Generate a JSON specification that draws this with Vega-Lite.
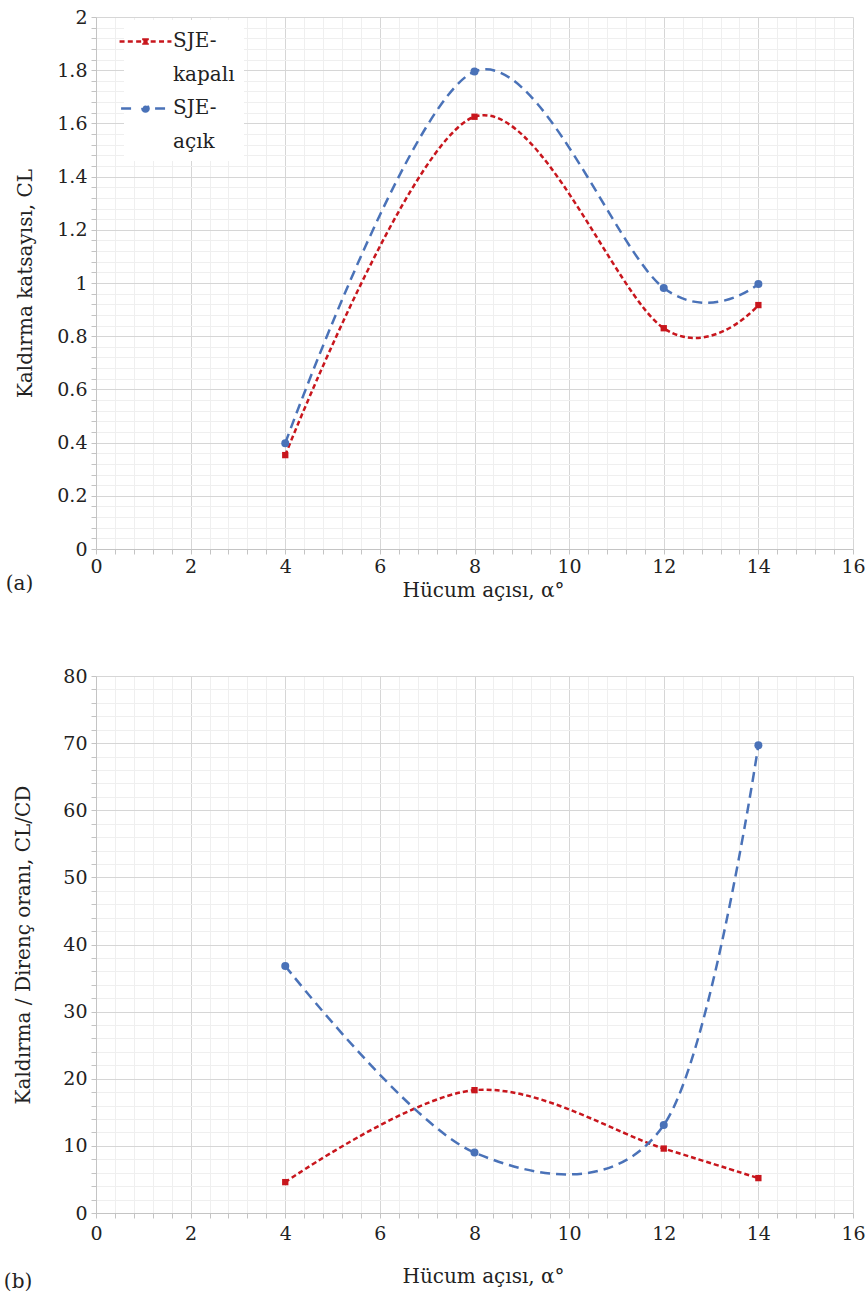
{
  "$schema": "https://vega.github.io/schema/vega-lite/v6.json",
  "background": "white",
  "padding": {"left": 3, "top": 8, "right": 2, "bottom": 5},
  "spacing": 67,
  "datasets": {
    "cl": [
      {"alpha": 4, "value": 0.353, "series": "SJE-kapalı"},
      {"alpha": 8, "value": 1.625, "series": "SJE-kapalı"},
      {"alpha": 12, "value": 0.83, "series": "SJE-kapalı"},
      {"alpha": 14, "value": 0.917, "series": "SJE-kapalı"},
      {"alpha": 4, "value": 0.398, "series": "SJE-açık"},
      {"alpha": 8, "value": 1.795, "series": "SJE-açık"},
      {"alpha": 12, "value": 0.981, "series": "SJE-açık"},
      {"alpha": 14, "value": 0.996, "series": "SJE-açık"}
    ],
    "ratio": [
      {"alpha": 4, "value": 4.6, "series": "SJE-kapalı"},
      {"alpha": 8, "value": 18.3, "series": "SJE-kapalı"},
      {"alpha": 12, "value": 9.6, "series": "SJE-kapalı"},
      {"alpha": 14, "value": 5.2, "series": "SJE-kapalı"},
      {"alpha": 4, "value": 36.8, "series": "SJE-açık"},
      {"alpha": 8, "value": 9.0, "series": "SJE-açık"},
      {"alpha": 12, "value": 13.1, "series": "SJE-açık"},
      {"alpha": 14, "value": 69.7, "series": "SJE-açık"}
    ]
  },
  "config": {
    "font": "DejaVu Serif",
    "view": {"stroke": null},
    "axis": {
      "labelFont": "DejaVu Serif",
      "titleFont": "DejaVu Serif",
      "labelFontSize": 19,
      "titleFontSize": 20,
      "labelColor": "#222",
      "titleColor": "#222",
      "titleFontWeight": "normal",
      "domainColor": "#c4c4c4",
      "tickColor": "#c4c4c4",
      "tickSize": 5,
      "tickCount": 200,
      "labelOverlap": false,
      "labelFlush": false,
      "labelBound": false,
      "format": "~g"
    },
    "legend": {
      "title": null,
      "orient": "none",
      "legendX": 28,
      "legendY": 3,
      "padding": 9,
      "fillColor": "white",
      "symbolSize": 484,
      "symbolStrokeWidth": 2.5,
      "labelFontSize": 20,
      "labelFont": "DejaVu Serif",
      "labelColor": "#222",
      "labelOffset": 15,
      "labelBaseline": "top",
      "rowPadding": 11
    },
    "title": {"font": "DejaVu Serif", "fontSize": 20, "fontWeight": "normal", "color": "#222"}
  },
  "vconcat": [
    {
      "width": 757,
      "height": 532,
      "title": {"text": "(a)", "orient": "bottom", "anchor": "start", "frame": "bounds", "offset": -26, "dx": -10},
      "data": {"name": "cl"},
      "encoding": {
        "x": {"field": "alpha", "type": "quantitative", "scale": {"domain": [0, 16], "nice": false},
          "axis": {
            "title": "Hücum açısı, α°",
            "titleX": 387,
            "tickCount": 200,
            "values": [0,0.4,0.8,1.2,1.6,2,2.4,2.8,3.2,3.6,4,4.4,4.8,5.2,5.6,6,6.4,6.8,7.2,7.6,8,8.4,8.8,9.2,9.6,10,10.4,10.8,11.2,11.6,12,12.4,12.8,13.2,13.6,14,14.4,14.8,15.2,15.6,16],
            "labelExpr": "abs(datum.value/2 - round(datum.value/2)) < 0.001 ? datum.label : ''",
            "gridColor": {"condition": {"test": "abs(datum.value/2 - round(datum.value/2)) < 0.001", "value": "#d6d6d6"}, "value": "#efefef"},
            "labelPadding": 3,
            "titlePadding": 4
          }},
        "y": {"field": "value", "type": "quantitative", "scale": {"domain": [0, 2], "nice": false},
          "axis": {
            "title": "Kaldırma katsayısı, CL",
            "tickCount": 200,
            "values": [0,0.04,0.08,0.12,0.16,0.2,0.24,0.28,0.32,0.36,0.4,0.44,0.48,0.52,0.56,0.6,0.64,0.68,0.72,0.76,0.8,0.84,0.88,0.92,0.96,1,1.04,1.08,1.12,1.16,1.2,1.24,1.28,1.32,1.36,1.4,1.44,1.48,1.52,1.56,1.6,1.64,1.68,1.72,1.76,1.8,1.84,1.88,1.92,1.96,2],
            "labelExpr": "abs(datum.value*5 - round(datum.value*5)) < 0.001 ? datum.label : ''",
            "gridColor": {"condition": {"test": "abs(datum.value*5 - round(datum.value*5)) < 0.001", "value": "#d6d6d6"}, "value": "#efefef"},
            "labelPadding": 4,
            "titlePadding": 21
          }}
      },
      "layer": [
        {
          "mark": {"type": "line", "interpolate": "cardinal", "tension": 0, "strokeWidth": 2.5},
          "encoding": {
            "color": {"field": "series", "type": "nominal",
              "scale": {"domain": ["SJE-kapalı", "SJE-açık"], "range": ["#C8161D", "#4A72B8"]},
              "legend": {
                "labelExpr": "datum.label == 'SJE-kapalı' ? ['SJE-', 'kapalı'] : ['SJE-', 'açık']",
                "encode": {
                  "symbols": {"update": {
                    "shape": {"signal": "datum.value == 'SJE-kapalı' ? 'M-2.36,0H-1.89M-1.61,0H-1.13M-0.85,0H-0.38M-0.19,-0.19H0.19V0.19H-0.19ZM0.47,0H0.95M1.23,0H1.7M1.99,0H2.36' : 'M-2.22,0H-0.95M0.28,0A0.28,0.28 0 1,1 -0.28,0A0.28,0.28 0 1,1 0.28,0ZM0.87,0H2.25'"},
                    "fill": {"signal": "datum.value == 'SJE-kapalı' ? '#C8161D' : '#4A72B8'"},
                    "stroke": {"signal": "datum.value == 'SJE-kapalı' ? '#C8161D' : '#4A72B8'"},
                    "strokeWidth": {"value": 2.5},
                    "strokeDash": {"value": []}
                  }},
                  "labels": {"update": {"lineHeight": {"value": 34}, "dy": {"value": -11}}}
                }
              }},
            "strokeDash": {"field": "series", "type": "nominal",
              "scale": {"domain": ["SJE-kapalı", "SJE-açık"], "range": [[5, 3], [10, 6]]}, "legend": null}
          }
        },
        {
          "transform": [{"filter": "datum.series == 'SJE-kapalı'"}],
          "mark": {"type": "square", "filled": true, "opacity": 1, "size": 40, "color": "#C8161D"},
          "encoding": {}
        },
        {
          "transform": [{"filter": "datum.series == 'SJE-açık'"}],
          "mark": {"type": "circle", "filled": true, "opacity": 1, "size": 64, "color": "#4A72B8"},
          "encoding": {}
        }
      ]
    },
    {
      "width": 757,
      "height": 537,
      "title": {"text": "(b)", "orient": "bottom", "anchor": "start", "frame": "bounds", "offset": -14, "dx": -10},
      "data": {"name": "ratio"},
      "encoding": {
        "x": {"field": "alpha", "type": "quantitative", "scale": {"domain": [0, 16], "nice": false},
          "axis": {
            "title": "Hücum açısı, α°",
            "titleX": 387,
            "tickCount": 200,
            "values": [0,0.4,0.8,1.2,1.6,2,2.4,2.8,3.2,3.6,4,4.4,4.8,5.2,5.6,6,6.4,6.8,7.2,7.6,8,8.4,8.8,9.2,9.6,10,10.4,10.8,11.2,11.6,12,12.4,12.8,13.2,13.6,14,14.4,14.8,15.2,15.6,16],
            "labelExpr": "abs(datum.value/2 - round(datum.value/2)) < 0.001 ? datum.label : ''",
            "gridColor": {"condition": {"test": "abs(datum.value/2 - round(datum.value/2)) < 0.001", "value": "#d6d6d6"}, "value": "#efefef"},
            "labelPadding": 6,
            "titlePadding": 23
          }},
        "y": {"field": "value", "type": "quantitative", "scale": {"domain": [0, 80], "nice": false},
          "axis": {
            "title": "Kaldırma / Direnç oranı, CL/CD",
            "tickCount": 200,
            "values": [0,2,4,6,8,10,12,14,16,18,20,22,24,26,28,30,32,34,36,38,40,42,44,46,48,50,52,54,56,58,60,62,64,66,68,70,72,74,76,78,80],
            "labelExpr": "abs(datum.value/10 - round(datum.value/10)) < 0.001 ? datum.label : ''",
            "gridColor": {"condition": {"test": "abs(datum.value/10 - round(datum.value/10)) < 0.001", "value": "#d6d6d6"}, "value": "#efefef"},
            "labelPadding": 4,
            "titlePadding": 29
          }}
      },
      "layer": [
        {
          "mark": {"type": "line", "interpolate": "cardinal", "tension": 0, "strokeWidth": 2.5},
          "encoding": {
            "color": {"field": "series", "type": "nominal",
              "scale": {"domain": ["SJE-kapalı", "SJE-açık"], "range": ["#C8161D", "#4A72B8"]},
              "legend": {
                "labelExpr": "datum.label == 'SJE-kapalı' ? ['SJE-', 'kapalı'] : ['SJE-', 'açık']",
                "encode": {
                  "symbols": {"update": {
                    "shape": {"signal": "datum.value == 'SJE-kapalı' ? 'M-2.36,0H-1.89M-1.61,0H-1.13M-0.85,0H-0.38M-0.19,-0.19H0.19V0.19H-0.19ZM0.47,0H0.95M1.23,0H1.7M1.99,0H2.36' : 'M-2.22,0H-0.95M0.28,0A0.28,0.28 0 1,1 -0.28,0A0.28,0.28 0 1,1 0.28,0ZM0.87,0H2.25'"},
                    "fill": {"signal": "datum.value == 'SJE-kapalı' ? '#C8161D' : '#4A72B8'"},
                    "stroke": {"signal": "datum.value == 'SJE-kapalı' ? '#C8161D' : '#4A72B8'"},
                    "strokeWidth": {"value": 2.5},
                    "strokeDash": {"value": []}
                  }},
                  "labels": {"update": {"lineHeight": {"value": 34}, "dy": {"value": -11}}}
                }
              }},
            "strokeDash": {"field": "series", "type": "nominal",
              "scale": {"domain": ["SJE-kapalı", "SJE-açık"], "range": [[5, 3], [10, 6]]}, "legend": null}
          }
        },
        {
          "transform": [{"filter": "datum.series == 'SJE-kapalı'"}],
          "mark": {"type": "square", "filled": true, "opacity": 1, "size": 40, "color": "#C8161D"},
          "encoding": {}
        },
        {
          "transform": [{"filter": "datum.series == 'SJE-açık'"}],
          "mark": {"type": "circle", "filled": true, "opacity": 1, "size": 64, "color": "#4A72B8"},
          "encoding": {}
        }
      ]
    }
  ]
}
